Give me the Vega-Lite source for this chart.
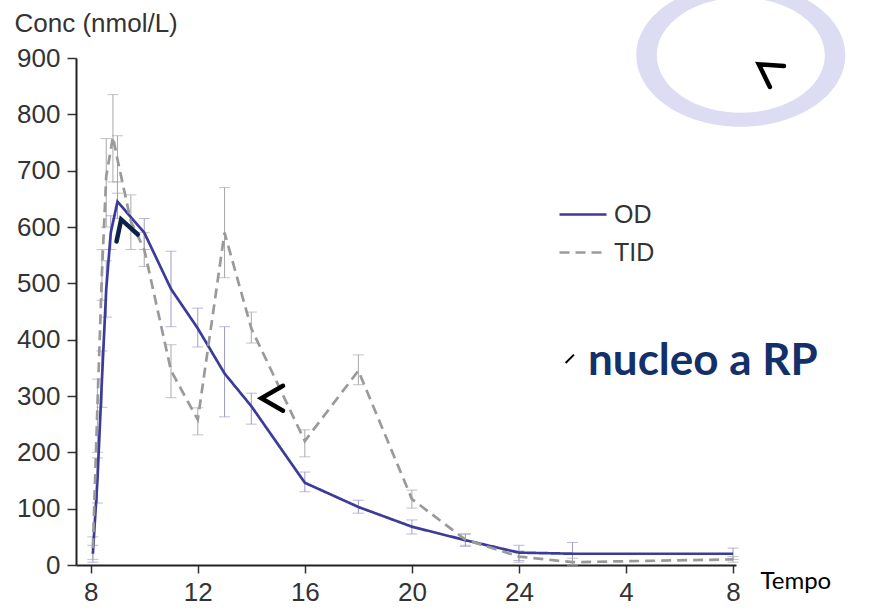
{
  "$schema": "https://vega.github.io/schema/vega-lite/v6.json",
  "autosize": "none",
  "width": 660,
  "height": 507,
  "padding": {"left": 76, "top": 58, "right": 141, "bottom": 45},
  "background": "white",
  "config": {
    "view": {"stroke": null},
    "axis": {"domainColor": "#222", "domainWidth": 2, "tickColor": "#333", "tickWidth": 1.5, "tickSize": 8, "labelFont": "Liberation Sans", "labelFontSize": 26, "labelColor": "#333", "grid": false}
  },
  "datasets": {
    "conc": [
      {"series": "OD", "t": 8.08, "v": 20, "lo": 5, "hi": 35},
      {"series": "OD", "t": 8.25, "v": 150, "lo": 110, "hi": 190},
      {"series": "OD", "t": 8.42, "v": 330, "lo": 280, "hi": 380},
      {"series": "OD", "t": 8.58, "v": 490, "lo": 440, "hi": 540},
      {"series": "OD", "t": 8.75, "v": 590, "lo": 560, "hi": 620},
      {"series": "OD", "t": 9, "v": 645, "lo": 615, "hi": 680},
      {"series": "OD", "t": 10, "v": 590, "lo": 560, "hi": 615},
      {"series": "OD", "t": 11, "v": 490, "lo": 423, "hi": 557},
      {"series": "OD", "t": 12, "v": 420, "lo": 387, "hi": 456},
      {"series": "OD", "t": 13, "v": 340, "lo": 263, "hi": 423},
      {"series": "OD", "t": 14, "v": 282, "lo": 250, "hi": 305},
      {"series": "OD", "t": 16, "v": 146, "lo": 130, "hi": 165},
      {"series": "OD", "t": 18, "v": 103, "lo": 92, "hi": 115},
      {"series": "OD", "t": 20, "v": 68, "lo": 55, "hi": 80},
      {"series": "OD", "t": 22, "v": 44, "lo": 33, "hi": 55},
      {"series": "OD", "t": 24, "v": 22, "lo": 8, "hi": 35},
      {"series": "OD", "t": 26, "v": 20, "lo": 0, "hi": 40},
      {"series": "OD", "t": 32, "v": 20, "lo": 10, "hi": 30},
      {"series": "TID", "t": 8.08, "v": 30, "lo": 10, "hi": 50},
      {"series": "TID", "t": 8.25, "v": 280, "lo": 200, "hi": 330},
      {"series": "TID", "t": 8.42, "v": 520, "lo": 470, "hi": 560},
      {"series": "TID", "t": 8.58, "v": 690, "lo": 600, "hi": 757},
      {"series": "TID", "t": 8.83, "v": 760, "lo": 680, "hi": 835},
      {"series": "TID", "t": 9, "v": 720, "lo": 660, "hi": 762},
      {"series": "TID", "t": 9.5, "v": 610, "lo": 560, "hi": 657},
      {"series": "TID", "t": 10, "v": 560, "lo": 530, "hi": 590},
      {"series": "TID", "t": 11, "v": 345, "lo": 297, "hi": 391},
      {"series": "TID", "t": 12, "v": 258, "lo": 231, "hi": 279},
      {"series": "TID", "t": 13, "v": 590, "lo": 510, "hi": 670},
      {"series": "TID", "t": 14, "v": 420, "lo": 394, "hi": 449},
      {"series": "TID", "t": 16, "v": 220, "lo": 192, "hi": 240},
      {"series": "TID", "t": 18, "v": 345, "lo": 320, "hi": 373},
      {"series": "TID", "t": 20, "v": 117, "lo": 101, "hi": 133},
      {"series": "TID", "t": 22, "v": 45, "lo": 35, "hi": 55},
      {"series": "TID", "t": 24, "v": 15, "lo": 5, "hi": 25},
      {"series": "TID", "t": 26, "v": 5, "lo": 0, "hi": 12},
      {"series": "TID", "t": 32, "v": 10, "lo": 5, "hi": 15}
    ],
    "chevrons": [
      {"t": 9.25, "v": 597, "ang": 72, "col": "#0d2147", "sz": 380},
      {"t": 14.78, "v": 296, "ang": 0, "col": "#000000", "sz": 470},
      {"t": 33.3, "v": 878, "ang": 34, "col": "#000000", "sz": 480}
    ]
  },
  "encoding": {
    "x": {"field": "t", "type": "quantitative", "scale": {"domain": [7.45, 32.11], "nice": false, "zero": false},
      "axis": {"values": [8, 12, 16, 20, 24, 28, 32], "labelExpr": "datum.value > 24 ? datum.value - 24 : datum.value", "labelPadding": 6,
        "title": "Tempo", "titleFont": "Lato", "titleFontSize": 24, "titleFontWeight": "normal", "titleColor": "#000", "titleX": 684, "titleY": 23, "titleAlign": "left", "titleBaseline": "alphabetic"}},
    "y": {"field": "v", "type": "quantitative", "scale": {"domain": [0, 900], "nice": false},
      "axis": {"values": [0, 100, 200, 300, 400, 500, 600, 700, 800, 900], "labelPadding": 7, "tickSize": 9,
        "title": "Conc (nmol/L)", "titleFont": "Liberation Sans", "titleFontSize": 26, "titleFontWeight": "normal", "titleColor": "#333", "titleAngle": 0, "titleX": -62, "titleY": -27, "titleAlign": "left", "titleBaseline": "alphabetic"}}
  },
  "layer": [
    {
      "data": {"values": [{"t": 32.29, "v": 905}]},
      "mark": {"type": "point", "shape": "M -1 0 A 1 0.684 0 1 1 1 0 A 1 0.684 0 1 1 -1 0 Z M -0.804 0 A 0.804 0.55 0 1 0 0.804 0 A 0.804 0.55 0 1 0 -0.804 0 Z", "size": 43681, "filled": true, "fill": "#dcdcf2", "opacity": 1, "strokeWidth": 0}
    },
    {
      "data": {"name": "conc"},
      "mark": {"type": "rule", "strokeWidth": 1},
      "encoding": {"y": {"field": "lo", "type": "quantitative"}, "y2": {"field": "hi"},
        "color": {"condition": {"test": "datum.series === 'OD'", "value": "#9c9cc8"}, "value": "#a8a8a8"}}
    },
    {
      "data": {"name": "conc"},
      "mark": {"type": "tick", "orient": "horizontal", "size": 11, "thickness": 1},
      "encoding": {"y": {"field": "lo", "type": "quantitative"},
        "color": {"condition": {"test": "datum.series === 'OD'", "value": "#9c9cc8"}, "value": "#a8a8a8"}}
    },
    {
      "data": {"name": "conc"},
      "mark": {"type": "tick", "orient": "horizontal", "size": 11, "thickness": 1},
      "encoding": {"y": {"field": "hi", "type": "quantitative"},
        "color": {"condition": {"test": "datum.series === 'OD'", "value": "#9c9cc8"}, "value": "#a8a8a8"}}
    },
    {
      "data": {"name": "conc"},
      "mark": {"type": "line", "strokeWidth": 2.7},
      "encoding": {
        "color": {"field": "series", "type": "nominal", "scale": {"domain": ["OD", "TID"], "range": ["#3c3a9a", "#9a9a9a"]},
          "legend": {"title": null, "orient": "none", "legendX": 482, "legendY": 131.5, "symbolType": "stroke", "symbolSize": 2209, "symbolStrokeWidth": 2.7, "labelFont": "Liberation Sans", "labelFontSize": 25, "labelColor": "#333", "rowPadding": -10, "labelOffset": 6}},
        "strokeDash": {"field": "series", "type": "nominal", "scale": {"domain": ["OD", "TID"], "range": [[1, 0], [10, 6]]}, "legend": null}
      }
    },
    {
      "data": {"name": "chevrons"},
      "mark": {"type": "point", "shape": "M 1 -1.15 L -1 0 L 1 1.15", "filled": false, "strokeWidth": 4.5, "opacity": 1, "strokeCap": "round", "strokeJoin": "miter"},
      "encoding": {"angle": {"field": "ang", "type": "quantitative", "scale": null}, "stroke": {"field": "col", "type": "nominal", "scale": null}, "size": {"field": "sz", "type": "quantitative", "scale": null}}
    },
    {
      "data": {"values": [{"t": 25.9, "v": 366}]},
      "mark": {"type": "point", "shape": "M -1 1 L 1 -1", "filled": false, "size": 70, "strokeWidth": 2, "stroke": "#000", "opacity": 1}
    },
    {
      "data": {"values": [{"t": 26.58, "v": 337, "label": "nucleo a RP"}]},
      "mark": {"type": "text", "align": "left", "baseline": "alphabetic", "font": "Lato", "fontWeight": "bold", "fontSize": 44, "color": "#13306b"},
      "encoding": {"text": {"field": "label"}}
    }
  ]
}
